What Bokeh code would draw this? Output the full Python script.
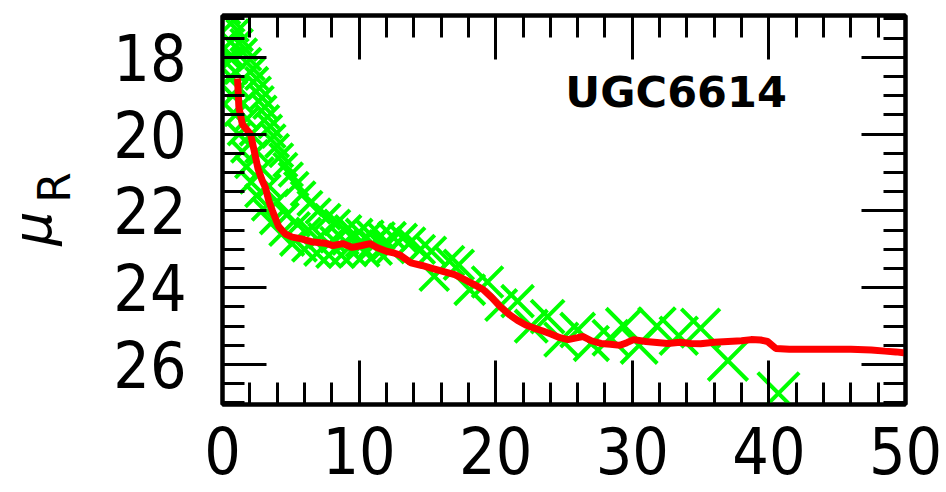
import math

from bokeh.core.properties import value
from bokeh.embed import file_html
from bokeh.layouts import row
from bokeh.models import ColumnDataSource, FixedTicker, Label, LinearAxis, Range1d
from bokeh.plotting import figure
from bokeh.resources import INLINE

# Isophote surface brightness (green crosses): radius and mu_R
iso_radius = [
    # bright side of the inner profile
    0.5, 0.8, 1.1, 1.4, 1.7, 2.0, 2.25, 2.5, 2.7, 2.9, 3.1, 3.3, 3.5, 3.75,
    4.0, 4.3, 4.6, 5.0, 5.4, 5.9, 6.4, 7.0, 7.7, 8.4, 9.2, 10.0, 10.8, 11.6,
    12.4, 13.2,
    # along the profile
    0.6, 0.8, 1.0, 1.2, 1.5, 1.8, 2.1, 2.5, 2.9, 3.4, 4.0, 4.7, 5.5, 6.3,
    7.2, 8.1, 9.0, 10.0, 11.0, 12.0,
    # faint side of the inner profile
    0.5, 0.6, 0.75, 0.95, 1.2, 1.45, 1.75, 2.1, 2.5, 3.0, 3.6, 4.3, 5.1,
    6.0, 6.9, 7.8, 8.7, 9.6, 10.5, 11.4, 12.3,
    # outer isophotes
    13.8, 14.5, 15.3, 15.5, 16.6, 17.3, 18.1, 19.4, 20.4, 21.6, 22.6, 23.8,
    24.8, 26.0, 27.0, 28.4, 29.4, 30.5, 31.8, 33.4, 35.0, 37.0, 40.7,
]
iso_mu = [
    16.85, 17.05, 17.3, 17.55, 17.8, 18.05, 18.3, 18.55, 18.8, 19.05, 19.3,
    19.55, 19.8, 20.05, 20.3, 20.55, 20.8, 21.05, 21.3, 21.55, 21.8, 22.0,
    22.15, 22.3, 22.45, 22.55, 22.6, 22.65, 22.65, 22.7,
    17.6, 18.0, 18.4, 18.8, 19.2, 19.6, 20.0, 20.45, 20.9, 21.35, 21.75,
    22.1, 22.35, 22.5, 22.65, 22.75, 22.8, 22.85, 22.85, 22.9,
    18.0, 18.5, 19.0, 19.5, 20.0, 20.45, 20.85, 21.25, 21.6, 21.95, 22.3,
    22.6, 22.85, 23.0, 23.1, 23.15, 23.15, 23.1, 23.1, 23.05, 23.0,
    22.8, 23.0, 23.05, 23.7, 23.3, 23.4, 24.05, 23.85, 24.45, 24.35, 25.0,
    24.75, 25.35, 25.1, 25.45, 25.3, 25.0, 25.5, 25.0, 25.25, 25.05, 25.9,
    26.75,
]

# Mean surface-brightness profile (red line)
prof_radius = [
    1.1, 1.2, 1.45, 2.05, 2.3, 2.6, 2.9, 3.15, 3.4, 3.66, 4.1, 4.6, 5.1, 5.7,
    6.5, 7.5, 8.1, 8.8, 9.5, 10.2, 10.8, 11.3, 12.0, 12.6, 13.0, 13.8, 14.6,
    15.4, 16.2, 17.0, 17.8, 18.6, 19.1, 19.7, 20.35, 21.0, 21.6, 22.2, 22.8,
    23.4, 24.0, 24.7, 25.3, 26.0, 26.4, 27.0, 27.7, 28.4, 29.1, 29.6, 30.1,
    31.0, 32.0, 32.6, 33.5, 34.3, 35.0, 36.0, 37.0, 38.0, 38.7, 39.4, 39.9,
    40.5, 41.5, 43.0, 44.5, 46.0, 47.5, 48.5, 49.3, 50.0,
]
prof_mu = [
    18.55, 19.3, 19.74, 20.0, 20.4, 20.9, 21.2, 21.4, 21.75, 22.0, 22.4,
    22.6, 22.68, 22.72, 22.8, 22.84, 22.9, 22.85, 22.95, 22.9, 22.85, 22.95,
    23.05, 23.1, 23.15, 23.35, 23.42, 23.5, 23.58, 23.66, 23.8, 23.95, 24.05,
    24.25, 24.5, 24.7, 24.85, 24.97, 25.05, 25.12, 25.2, 25.3, 25.35, 25.3,
    25.27, 25.38, 25.45, 25.47, 25.5, 25.43, 25.35, 25.4, 25.43, 25.45,
    25.42, 25.45, 25.46, 25.42, 25.4, 25.38, 25.35, 25.36, 25.4, 25.58, 25.6,
    25.6, 25.6, 25.6, 25.62, 25.65, 25.67, 25.7,
]

x_ticks = [0, 10, 20, 30, 40, 50]
y_ticks = [18, 20, 22, 24, 26]
galaxy_name = "UGC6614"
y_title = "μ"
y_title_sub = "R"

TICK_FONT = "DejaVu Sans Condensed"
TITLE_W = 100
FRAME_TOP, FRAME_BOTTOM = 15, 404

# ---- main panel -----------------------------------------------------------
p = figure(
    width=946 - TITLE_W, height=492,
    x_range=Range1d(0, 50), y_range=Range1d(27.04, 16.91),
    output_backend="svg", toolbar_location=None,
    min_border_left=222 - TITLE_W, min_border_right=41,
    min_border_top=FRAME_TOP, min_border_bottom=492 - FRAME_BOTTOM,
    background_fill_color="white", border_fill_color="white",
)
p.xgrid.visible = False
p.ygrid.visible = False
p.outline_line_color = "black"
p.outline_line_width = 4

p.add_layout(LinearAxis(), "above")
p.add_layout(LinearAxis(), "right")

x_minor = [v * 2 for v in range(0, 26)]
y_minor = [16.5 + 0.5 * k for k in range(0, 22)]

for ax in list(p.xaxis) + list(p.yaxis):
    ax.axis_line_color = "black"
    ax.axis_line_width = 4
    ax.major_tick_in = 44
    ax.major_tick_out = 0
    ax.minor_tick_in = 22
    ax.minor_tick_out = 0
    ax.major_tick_line_width = 3
    ax.minor_tick_line_width = 3
    ax.major_tick_line_color = "black"
    ax.minor_tick_line_color = "black"
    ax.major_label_text_font = TICK_FONT
    ax.major_label_text_font_size = "64px"
    ax.major_label_text_color = "black"

for ax in p.xaxis:
    ax.ticker = FixedTicker(ticks=x_ticks, minor_ticks=x_minor)
for ax in p.yaxis:
    ax.ticker = FixedTicker(ticks=y_ticks, minor_ticks=y_minor)

p.below[0].major_label_standoff = 22
p.left[0].major_label_standoff = 36
# frame ticks only on the top and right sides
for ax in (p.above[0], p.right[0]):
    ax.major_label_text_font_size = "1px"
    ax.major_label_text_color = None
    ax.major_label_standoff = 0

src = ColumnDataSource(dict(
    r=iso_radius, mu=iso_mu,
    size=[30 + 0.7 * r for r in iso_radius],
))
p.scatter("r", "mu", source=src, marker="x", size="size",
          line_color="#00ff00", line_width=4)
p.line(prof_radius, prof_mu, line_color="#ff0000", line_width=7)

p.add_layout(Label(x=25.1, y=18.9, text=galaxy_name,
                   text_font="DejaVu Sans", text_font_style="bold",
                   text_font_size="43px", text_color="black",
                   text_baseline="alphabetic", text_align="left"))

# ---- rotated axis title (mu with subscript R) in a narrow side panel -------
# The row aligns this panel's frame with the main frame, so its y range is
# expressed in page pixels between the frame's top and bottom edges.
t = figure(
    width=TITLE_W, height=492,
    x_range=Range1d(0, TITLE_W), y_range=Range1d(FRAME_BOTTOM, FRAME_TOP),
    output_backend="svg", toolbar_location=None,
    x_axis_location=None, y_axis_location=None,
    min_border=0, outline_line_color=None,
    background_fill_color="white", border_fill_color="white",
)
t.xgrid.visible = False
t.ygrid.visible = False
t.text(x=[32], y=[228], text=[y_title], angle=math.pi / 2,
       text_font=value("DejaVu Sans"), text_font_style="italic",
       text_font_size="54px", text_color="black",
       text_align="center", text_baseline="middle")
t.text(x=[54], y=[187], text=[y_title_sub], angle=math.pi / 2,
       text_font=value("DejaVu Sans"), text_font_size="44px",
       text_color="black", text_align="center", text_baseline="middle")

layout = row(t, p, spacing=0)
open("out.html", "w").write(file_html(layout, INLINE))
